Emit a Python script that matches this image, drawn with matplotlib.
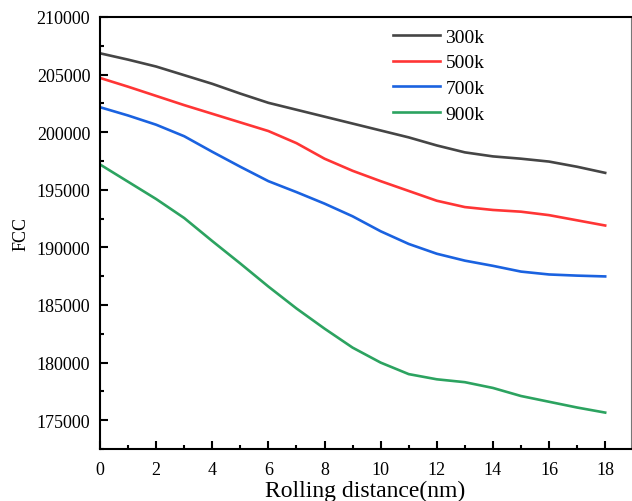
import matplotlib
matplotlib.use("Agg")
import matplotlib.pyplot as plt
from matplotlib.ticker import MultipleLocator

plt.rcParams['font.family'] = ['Liberation Serif', 'DejaVu Serif']

# distancia de laminacao (nm)
distancia = [0, 1, 2, 3, 4, 5, 6, 7, 8, 9, 10, 11, 12, 13, 14, 15, 16, 17, 18]

fcc_300k = [206850, 206300, 205700, 204950, 204200, 203350, 202550, 201950, 201350,
            200750, 200150, 199550, 198850, 198250, 197900, 197700, 197450, 197000, 196470]
fcc_500k = [204710, 203950, 203150, 202350, 201600, 200850, 200100, 199050, 197700,
            196650, 195750, 194900, 194050, 193500, 193250, 193100, 192800, 192350, 191900]
fcc_700k = [202170, 201450, 200650, 199650, 198300, 197000, 195750, 194800, 193800,
            192700, 191400, 190300, 189450, 188850, 188400, 187900, 187650, 187550, 187480]
fcc_900k = [197200, 195700, 194200, 192550, 190550, 188600, 186600, 184700, 182950,
            181300, 180000, 179000, 178550, 178300, 177800, 177100, 176600, 176100, 175660]

series = [("300k", fcc_300k, "#454545"),
          ("500k", fcc_500k, "#ff3535"),
          ("700k", fcc_700k, "#1a62e0"),
          ("900k", fcc_900k, "#2ca360")]

fig = plt.figure(figsize=(6.32, 5.02), dpi=100)
ax = fig.add_axes([100/632, 52/502, 531/632, 432/502])

for nome, valores, cor in series:
    ax.plot(distancia, valores, color=cor, lw=1.9, label=nome)

ax.set_xlim(0, 18.92)
ax.set_ylim(172500, 210000)
ax.xaxis.set_major_locator(MultipleLocator(2))
ax.xaxis.set_minor_locator(MultipleLocator(1))
ax.yaxis.set_major_locator(MultipleLocator(5000))
ax.yaxis.set_minor_locator(MultipleLocator(2500))

ax.tick_params(which='both', direction='in', top=False, right=False, width=1.5, labelsize=13)
ax.tick_params(which='major', length=6)
ax.tick_params(which='minor', length=3)
ax.tick_params(axis='x', pad=9)
ax.tick_params(axis='y', pad=7)

for lado in ['left', 'bottom', 'top']:
    ax.spines[lado].set_linewidth(1.5)
ax.spines['right'].set_linewidth(0.8)
ax.spines['right'].set_color('#777777')

ax.set_xlabel("Rolling distance(nm)", fontsize=17, labelpad=1)
ax.set_ylabel("FCC", fontsize=13, labelpad=5)

ax.legend(loc='upper left', bbox_to_anchor=(393/632, 1 - 29/502), bbox_transform=fig.transFigure,
          frameon=False, fontsize=14, handlelength=2.4, handletextpad=0.3,
          labelspacing=0.42, borderpad=0, borderaxespad=0)

plt.savefig("out.png", dpi=100)
plt.close()
